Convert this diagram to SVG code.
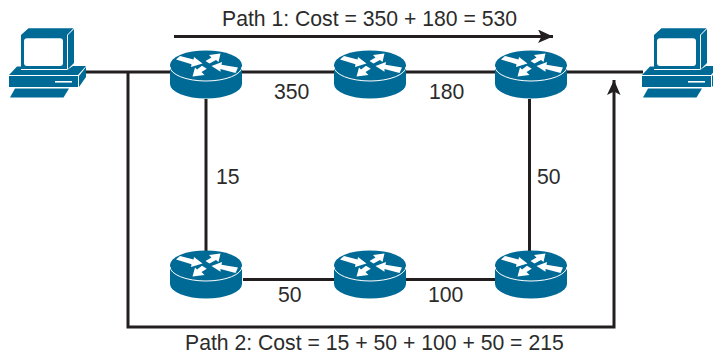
<svg xmlns="http://www.w3.org/2000/svg" width="713" height="353" viewBox="0 0 713 353">
<style>
.l{stroke:#231f20;stroke-width:3;fill:none}
.t{font-family:"Liberation Sans",Arial,sans-serif;font-size:21.200px;fill:#2b2b2b}
.b{fill:#006a96}
.w{fill:#fff}
</style>
<defs>
<marker id="ah" markerUnits="userSpaceOnUse" markerWidth="16" markerHeight="14" refX="15" refY="7" orient="auto">
<path d="M0 0L15 7L0 13.500L3.500 7Z" fill="#231f20"/>
</marker>
<g id="router">
<path class="b" d="M-36 0V19A36 14.500 0 0 0 36 19V0Z"/>
<ellipse class="b" cx="0" cy="0" rx="36" ry="14.500"/>
<path d="M-36 1.500A36 14.500 0 0 0 36 1.500" fill="none" stroke="#fff" stroke-width="1"/>
<path class="w" d="M-30-5.500L-26-9L-12.500-5.500L-12-8L-3.500-1.500L-15 2L-14.500-.8Z"/>
<path class="w" d="M14.500-11.500L3-10L5.500-7.500L-.5-4L3.500-1.500L10-5L12.500-3Z"/>
<path class="w" d="M-13.500 11.500L-1.500 10L-4.500 7L.8 3.800L-4 .8L-9 4.500L-11 2.500Z"/>
<path class="w" d="M5.500 1L16-3L15.500-.3L32 2.500L29.500 8L14.500 4L14.500 6.800Z"/>
</g>
<g id="pc">
<path class="b" d="M21 35L28.500 28.300H73.500L67 35Z"/>
<path class="b" d="M68 35L74 29V63L68 69Z"/>
<rect class="b" x="21" y="35" width="46" height="34"/>
<rect class="w" x="24" y="38.300" width="39" height="27.700" rx="3"/>
<path class="b" d="M9 75L17 66.500H21V70H67L73 66H86L78 75Z"/>
<rect class="b" x="9" y="76" width="69" height="11"/>
<path class="b" d="M79 76L86 67V77L79 87Z"/>
<rect class="w" x="55" y="81" width="17" height="1.600"/>
<path class="b" d="M10 97.500L15 88.500H69L63.500 97.500Z"/>
</g>
</defs>
<g id="connectors">
<path class="l" d="M86 72H171"/>
<path class="l" d="M242 72H335"/>
<path class="l" d="M406 72H496"/>
<path class="l" d="M567 72H643"/>
<path class="l" d="M206 99V252"/>
<path class="l" d="M529.500 99V252"/>
<path class="l" d="M243 279.500H335"/>
<path class="l" d="M406 279.500H496"/>
<path class="l" d="M128 72V327H614V80" marker-end="url(#ah)"/>
<path class="l" d="M174 36.500H553" marker-end="url(#ah)"/>
</g>
<g id="pc1"><use href="#pc"/></g>
<g id="pc2"><use href="#pc" x="633"/></g>
<g id="r1"><use href="#router" x="206" y="65"/></g>
<g id="r2"><use href="#router" x="370" y="65"/></g>
<g id="r3"><use href="#router" x="531" y="65"/></g>
<g id="r4"><use href="#router" x="206" y="265"/></g>
<g id="r5"><use href="#router" x="370" y="265"/></g>
<g id="r6"><use href="#router" x="531" y="265"/></g>
<g id="labels">
<text class="t" x="222" y="26">Path 1: Cost = 350 + 180 = 530</text>
<text class="t" x="274" y="99">350</text>
<text class="t" x="429" y="99">180</text>
<text class="t" x="216" y="184">15</text>
<text class="t" x="537" y="184">50</text>
<text class="t" x="278" y="302">50</text>
<text class="t" x="428" y="302">100</text>
<text class="t" x="185" y="349.500">Path 2: Cost = 15 + 50 + 100 + 50 = 215</text>
</g>
</svg>
